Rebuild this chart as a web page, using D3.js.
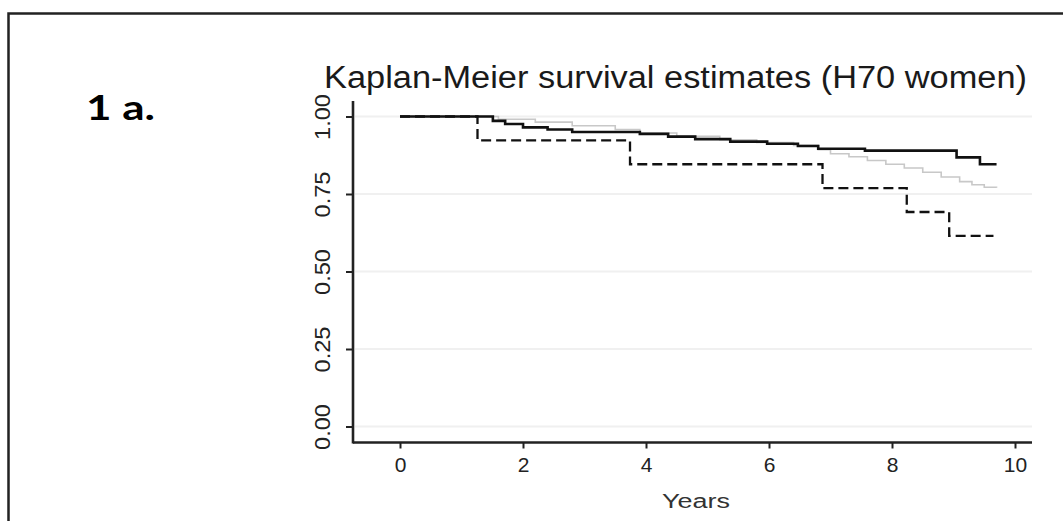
<!DOCTYPE html>
<html>
<head>
<meta charset="utf-8">
<script src="https://cdn.jsdelivr.net/npm/d3@7"></script>
<style>
  body { margin: 0; background: #fff; }
  svg { display: block; }
  text { font-family: "Liberation Sans", Arial, sans-serif; fill: #222; }
</style>
</head>
<body>
<svg id="chart"></svg>
<script>
// Kaplan-Meier curves (years, survival)
const blackTimes = [0, 1.51, 1.71, 2.0, 2.4, 2.8, 3.9, 4.36, 4.8, 5.37, 5.97, 6.47, 6.8, 7.56, 9.05, 9.43, 9.7];
const blackSurv  = [1, 0.986, 0.976, 0.965, 0.958, 0.950, 0.944, 0.935, 0.927, 0.919, 0.912, 0.905, 0.896, 0.890, 0.868, 0.846, 0.846];

const grayTimes = [0, 1.6, 2.2, 2.8, 3.5, 3.9, 4.5, 5.2, 5.8, 6.4, 6.8, 7.0, 7.3, 7.6, 7.9, 8.2, 8.5, 8.8, 9.1, 9.3, 9.5, 9.7];
const graySurv  = [1, 0.991, 0.982, 0.970, 0.958, 0.947, 0.936, 0.925, 0.916, 0.907, 0.893, 0.880, 0.870, 0.858, 0.846, 0.834, 0.820, 0.805, 0.790, 0.780, 0.772, 0.770];

const dashTimes = [0, 1.26, 3.74, 6.87, 8.24, 8.93, 9.65];
const dashSurv  = [1, 0.923, 0.846, 0.769, 0.692, 0.615, 0.615];

const xTicks = [0, 2, 4, 6, 8, 10];
const yTicks = [0, 0.25, 0.5, 0.75, 1];

const titleText = 'Kaplan-Meier survival estimates (H70 women)';
const panelLabel = '1 a.';
const xLabel = 'Years';

const width = 1063, height = 521;

const svg = d3.select('#chart')
    .attr('width', width)
    .attr('height', height);

// panel frame (runs off the right and bottom edges)
svg.append('rect')
    .attr('x', 8.5).attr('y', 13.5)
    .attr('width', 1100).attr('height', 600)
    .attr('fill', 'none')
    .attr('stroke', '#222')
    .attr('stroke-width', 2.5);

const x = d3.scaleLinear().domain([0, 10]).range([400, 1015]);
const y = d3.scaleLinear().domain([0, 1]).range([426.5, 116.5]);

const plotLeft = 353, plotRight = 1032, plotTop = 101, plotBottom = 442.5;

// faint grid lines
svg.append('g')
    .selectAll('line')
    .data(yTicks)
    .enter()
    .append('line')
    .attr('x1', plotLeft + 2).attr('x2', plotRight)
    .attr('y1', d => y(d)).attr('y2', d => y(d))
    .attr('stroke', '#f0f0f0')
    .attr('stroke-width', 2);

// survival curves
const line = d3.line()
    .x(d => x(d[0]))
    .y(d => y(d[1]))
    .curve(d3.curveStepAfter);

svg.append('path')
    .datum(d3.zip(grayTimes, graySurv))
    .attr('d', line)
    .attr('fill', 'none')
    .attr('stroke', '#c8c8c8')
    .attr('stroke-width', 1.6);

svg.append('path')
    .datum(d3.zip(blackTimes, blackSurv))
    .attr('d', line)
    .attr('fill', 'none')
    .attr('stroke', '#111')
    .attr('stroke-width', 2.6);

svg.append('path')
    .datum(d3.zip(dashTimes, dashSurv))
    .attr('d', line)
    .attr('fill', 'none')
    .attr('stroke', '#111')
    .attr('stroke-width', 2.3)
    .attr('stroke-dasharray', '10,5');

// axes
const xAxis = svg.append('g')
    .attr('transform', `translate(0,${plotBottom})`)
    .call(d3.axisBottom(x).tickValues(xTicks).tickFormat(d3.format('d')).tickSize(6).tickPadding(9));
xAxis.select('.domain').remove();
xAxis.selectAll('.tick line').attr('stroke', '#222').attr('stroke-width', 2);
xAxis.selectAll('.tick text')
    .style('font-size', '21px')
    .style('fill', '#222');

const yAxis = svg.append('g')
    .attr('transform', `translate(${plotLeft},0)`)
    .call(d3.axisLeft(y).tickValues(yTicks).tickFormat(d3.format('.2f')).tickSize(7));
yAxis.select('.domain').remove();
yAxis.selectAll('.tick line').attr('stroke', '#222').attr('stroke-width', 2);
yAxis.selectAll('.tick text')
    .attr('x', null).attr('dy', null)
    .attr('text-anchor', 'middle')
    .attr('transform', 'translate(-23,0) rotate(-90)')
    .attr('textLength', 46)
    .attr('lengthAdjust', 'spacingAndGlyphs')
    .style('font-size', '22px')
    .style('fill', '#222');

svg.append('line')
    .attr('x1', plotLeft).attr('x2', plotLeft)
    .attr('y1', plotTop).attr('y2', plotBottom + 1)
    .attr('stroke', '#222').attr('stroke-width', 2.6);
svg.append('line')
    .attr('x1', plotLeft).attr('x2', plotRight)
    .attr('y1', plotBottom).attr('y2', plotBottom)
    .attr('stroke', '#222').attr('stroke-width', 2.6);

// texts
svg.append('text')
    .attr('x', 324).attr('y', 88)
    .attr('textLength', 703)
    .attr('lengthAdjust', 'spacingAndGlyphs')
    .style('font-size', '31px')
    .style('fill', '#1a1a1a')
    .text(titleText);

svg.append('text')
    .attr('x', 86).attr('y', 120)
    .attr('textLength', 69)
    .attr('lengthAdjust', 'spacingAndGlyphs')
    .style('font-family', 'Lato, "Open Sans", sans-serif')
    .style('font-weight', 'bold')
    .style('font-size', '35px')
    .style('fill', '#000')
    .text(panelLabel);

svg.append('text')
    .attr('x', 662).attr('y', 508)
    .attr('textLength', 68)
    .attr('lengthAdjust', 'spacingAndGlyphs')
    .style('font-size', '20px')
    .style('fill', '#333')
    .text(xLabel);
</script>
</body>
</html>
